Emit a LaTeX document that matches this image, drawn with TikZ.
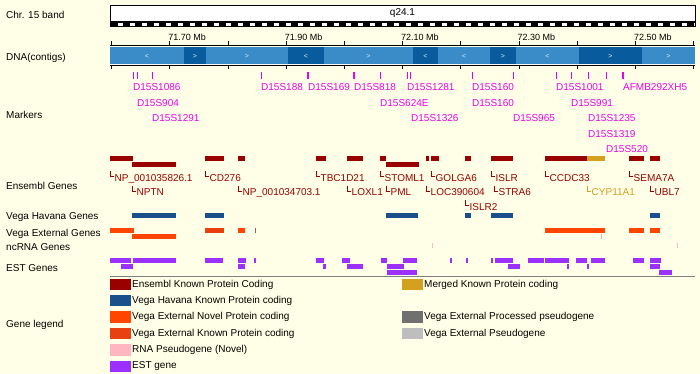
\documentclass[tikz,border=0pt]{standalone}
\usepackage{fontspec}
\setmainfont{Liberation Sans}

\definecolor{bg}{RGB}{255,255,231}
\definecolor{ensred}{RGB}{153,0,0}
\definecolor{havblue}{RGB}{25,80,140}
\definecolor{extnovel}{RGB}{255,69,0}
\definecolor{extknown}{RGB}{232,64,16}
\definecolor{rnapink}{RGB}{255,182,193}
\definecolor{estpurple}{RGB}{155,48,255}
\definecolor{mergedgold}{RGB}{212,160,32}
\definecolor{procgray}{RGB}{112,112,112}
\definecolor{pseudogray}{RGB}{190,190,190}
\definecolor{markmag}{RGB}{235,0,235}
\definecolor{contiglight}{RGB}{58,140,200}
\definecolor{contigdark}{RGB}{8,92,158}

\tikzset{
  tracklabel/.style={anchor=west, inner sep=0pt, font=\fontsize{10}{12}\selectfont},
  scalelabel/.style={anchor=base west, inner sep=0pt, font=\fontsize{9}{11}\selectfont},
  contigtext/.style={inner sep=0pt, text=white!85!contiglight, font=\fontsize{7}{8}\selectfont},
  markertext/.style={anchor=base west, inner sep=0pt, text=markmag, font=\fontsize{10}{12}\selectfont},
  genetext/.style={anchor=base west, inner sep=0pt, font=\fontsize{10}{12}\selectfont},
  legendtext/.style={anchor=west, inner sep=0pt, font=\fontsize{10}{12}\selectfont},
}

\begin{document}
\begin{tikzpicture}[x=1pt,y=-1pt]

% Background and size
\useasboundingbox[fill=bg] (0,0) rectangle (700,374);

% Track names
\node[tracklabel] (lbl-band) at (6,15) {Chr. 15 band};
\node[tracklabel] (lbl-dna) at (6,58) {DNA(contigs)};
\node[tracklabel] (lbl-markers) at (6,115) {Markers};
\node[tracklabel] (lbl-ens) at (6,186) {Ensembl Genes};
\node[tracklabel] (lbl-hav) at (6,217) {Vega Havana Genes};
\node[tracklabel] (lbl-ext) at (6,233.5) {Vega External Genes};
\node[tracklabel] (lbl-nc) at (6,247) {ncRNA Genes};
\node[tracklabel] (lbl-est) at (6,268) {EST Genes};
\node[tracklabel] (lbl-legend) at (6,325) {Gene legend};

% Chromosome band
\draw[fill=white, line width=0.8] (110,5) rectangle (695,21);
\node[font=\fontsize{10}{12}\selectfont] (band-q) at (402.5,13) {q24.1};
\draw[fill=white, line width=0.6] (110,22.3) rectangle (695,26.5);
\draw[line width=2.4, dash pattern=on 7.5 off 4.5] (110.5,24.4) -- (695,24.4);

% Scale bar
\draw[line width=0.7] (110,45) -- (695,45);
\foreach \t in {0,...,10}
  \draw[line width=0.7] (111.5+58.2*\t,41.5) -- (111.5+58.2*\t,45);
\foreach \t/\mb in {1/71.70,3/71.90,5/72.10,7/72.30,9/72.50}
  \node[scalelabel] (scale-\t) at (110+58.2*\t,40.5) {\mb\ Mb};

% DNA contigs
\foreach \a/\b/\c/\d in {110/184/contiglight/<, 184/206/contigdark/>,
    206/288/contiglight/>, 288/324/contigdark/<, 324/413/contiglight/>,
    413/438/contigdark/<, 438/490/contiglight/<, 490/516/contigdark/>,
    516/579/contiglight/<, 579/642/contigdark/>, 642/695/contiglight/>} {
  \fill[\c] (\a,47.5) rectangle (\b,64.5);
  \node[contigtext] (contig-\a) at ({(\a+\b)/2},56) {\d};
}
\draw[line width=0.7] (110,65.5) -- (695,65.5);
\foreach \t in {0,...,10}
  \draw[line width=0.7] (111.5+58.2*\t,65.5) -- (111.5+58.2*\t,69.5);

% Markers
\foreach \m in {133,137,152,261,380,407,410,472,513,556,571,588,606}
  \draw[markmag, line width=0.9] (\m,72) -- (\m,79);
\foreach \m in {308,354,623}
  \draw[markmag, line width=1.8] (\m,72) -- (\m,79);
\foreach \m/\r/\t in {133/91/D15S1086, 261/91/D15S188, 308/91/D15S169,
    354/91/D15S818, 407/91/D15S1281, 472/91/D15S160, 556/91/D15S1001,
    623/91/AFMB292XH5, 137/106.5/D15S904, 380/106.5/D15S624E,
    472/106.5/D15S160, 571/106.5/D15S991, 152/122/D15S1291,
    411/122/D15S1326, 513/122/D15S965, 588/122/D15S1235,
    588/137.5/D15S1319, 606/153/D15S520}
  \node[markertext] (mk-\m-\r) at (\m,\r) {\t};

% Ensembl genes
\foreach \a/\b in {110/133, 205/224, 238/245, 316/326, 347/363, 380/386,
    426/429, 431/439, 465/471, 491/513, 545/587, 629/644, 650/660}
  \fill[ensred] (\a,156) rectangle (\b,161);
\fill[mergedgold] (587,156) rectangle (605,161);
\foreach \a/\b in {132/176, 386/419}
  \fill[ensred] (\a,162) rectangle (\b,167);

\foreach \gx/\gy/\gc/\gt in {110/181/ensred/NP\_001035826.1, 205/181/ensred/CD276,
    316/181/ensred/TBC1D21, 380/181/ensred/STOML1, 431/181/ensred/GOLGA6,
    491/181/ensred/ISLR, 545/181/ensred/CCDC33, 629/181/ensred/SEMA7A,
    132/195.5/ensred/NPTN, 238/195.5/ensred/NP\_001034703.1,
    347/195.5/ensred/LOXL1, 386/195.5/ensred/PML, 426/195.5/ensred/LOC390604,
    494/195.5/ensred/STRA6, 587/195.5/mergedgold/CYP11A1, 650/195.5/ensred/UBL7,
    465/210/ensred/ISLR2} {
  \draw[\gc, line width=0.8] (\gx+0.5,\gy-10) |- (\gx+3.5,\gy-4.5);
  \node[genetext, text=\gc] (gene-\gx-\gy) at (\gx+4.5,\gy) {\gt};
}

% Vega Havana genes
\foreach \a/\b in {132/176, 205/224, 386/418, 465/471, 491/513, 650/660}
  \fill[havblue] (\a,213) rectangle (\b,218);

% Vega External genes
\foreach \a/\b in {110/134, 238/245, 545/605, 629/644, 650/660}
  \fill[extnovel] (\a,228) rectangle (\b,233);
\fill[extknown] (205,228) rectangle (224,233);
\fill[extnovel] (132,234) rectangle (176,239);
\fill[procgray] (254.5,228) rectangle (255.5,233);
\fill[pseudogray] (600.5,234) rectangle (601.5,239);

% ncRNA genes
\foreach \a in {432,677}
  \fill[rnapink] (\a-0.5,243) rectangle (\a+0.5,248);

% EST genes
\foreach \a/\b in {110/131, 133/176, 205/223, 238/246, 254/256, 316/324,
    342/350, 381/387, 403/417, 450/452, 466/468, 491/493, 495/513, 528/544,
    545/569, 576/587, 591/605, 633/644, 650/661}
  \fill[estpurple] (\a,258) rectangle (\b,263);
\foreach \a/\b in {121/133, 238/245, 323/326, 347/363, 387/404, 508/520,
    567/568.5, 587/589, 650/660}
  \fill[estpurple] (\a,264) rectangle (\b,269);
\foreach \a/\b in {387/417, 659/672}
  \fill[estpurple] (\a,270) rectangle (\b,275);

% Gene legend
\draw[gray, line width=0.8] (110,276) -- (695,276);
\foreach \i/\c/\t in {0/ensred/Ensembl Known Protein Coding,
    1/havblue/Vega Havana Known Protein coding,
    2/extnovel/Vega External Novel Protein coding,
    3/extknown/Vega External Known Protein coding,
    4/rnapink/RNA Pseudogene (Novel),
    5/estpurple/EST gene} {
  \fill[\c] (110,278.5+16.4*\i) rectangle (131,290+16.4*\i);
  \node[legendtext] (leg-\i) at (132,284.5+16.4*\i) {\t};
}
\foreach \i/\c/\t in {0/mergedgold/Merged Known Protein coding,
    2/procgray/Vega External Processed pseudogene,
    3/pseudogray/Vega External Pseudogene} {
  \fill[\c] (402,278.5+16.4*\i) rectangle (423,290+16.4*\i);
  \node[legendtext] (legr-\i) at (424,284.5+16.4*\i) {\t};
}

\end{tikzpicture}
\end{document}
